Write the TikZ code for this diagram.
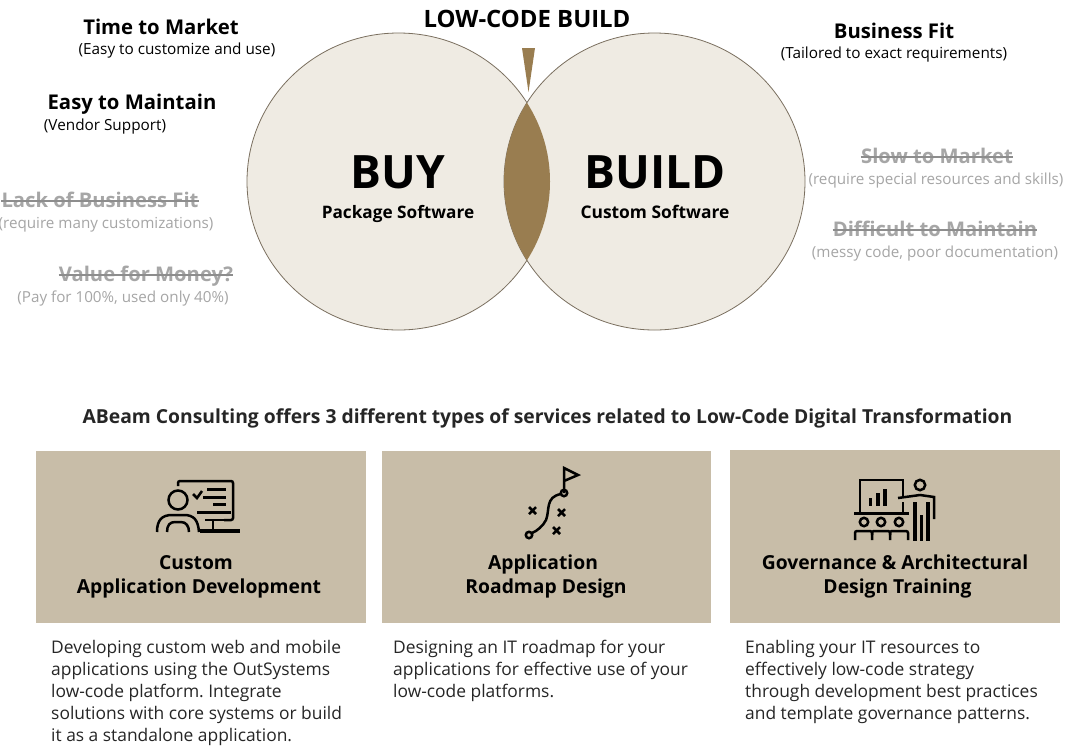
\documentclass[tikz,border=0pt]{standalone}
\usepackage{fontspec}
\setmainfont{Open Sans}
\usepackage{xcolor}
\definecolor{cream}{HTML}{EFEBE3}
\definecolor{ring}{HTML}{7A6F5F}
\definecolor{gold}{HTML}{997D50}
\definecolor{tan}{HTML}{C8BDA8}
\definecolor{fade}{HTML}{A6A6A6}
\definecolor{ink}{HTML}{262626}
\newcommand{\fsz}[1]{\fontsize{#1}{#1}\selectfont}
\frenchspacing
\tikzset{
 x=1pt,y=-1pt,
 head/.style={inner sep=0,font=\fsz{20.3}\bfseries,text=black},
 sub/.style={inner sep=0,font=\fsz{15.3},text=black},
 fhead/.style={inner sep=0,font=\fsz{20.2}\bfseries,text=fade},
 fsub/.style={inner sep=0,font=\fsz{15.2},text=fade},
 strike/.style={draw=fade!85!black,line width=1.4pt},
 card/.style={fill=tan,draw=none},
 cardtitle/.style={inner sep=0,align=center,font=\fontsize{19.3}{24}\selectfont\bfseries,text=black},
 body/.style={inner sep=0,align=left,anchor=north west,font=\fontsize{17.4}{22}\selectfont,text=ink},
 icon/.style={draw=black,line width=2.5pt,fill=none,line cap=butt},
}
\newcommand{\faded}[5]{%
 \node[fhead] (#1) at (#2,#3) {#4};
 \draw[strike] (#1.west |- 0,#5) -- (#1.east |- 0,#5);
}
\begin{document}
\begin{tikzpicture}
\useasboundingbox (0,0) rectangle (1092,748);
\fill[white] (0,0) rectangle (1092,748);
% circles
\draw[fill=cream,draw=ring,line width=.8pt] (398.5,181.5) ellipse [x radius=151.5,y radius=148.5];
\draw[fill=cream,draw=ring,line width=.8pt] (654.5,181.5) ellipse [x radius=150.5,y radius=148.5];
\begin{scope}
\clip (398.5,181.5) ellipse [x radius=151.5,y radius=148.5];
\fill[gold] (654.5,181.5) ellipse [x radius=150.5,y radius=148.5];
\end{scope}
\fill[gold] (522,48) -- (535,48) -- (528.5,92) -- cycle;
% venn text
\node[inner sep=0,font=\fsz{23.9}\bfseries] (lcb) at (527,18.5) {LOW-CODE BUILD};
\node[inner sep=0,font=\fsz{46}\bfseries] (buy) at (398,172) {BUY};
\node[inner sep=0,font=\fsz{17.2}\bfseries] (pkg) at (398,214) {Package Software};
\node[inner sep=0,font=\fsz{46}\bfseries] (build) at (655,172) {BUILD};
\node[inner sep=0,font=\fsz{17.4}\bfseries] (cust) at (655,212) {Custom Software};
% left benefits
\node[head] (ttm) at (161,27) {Time to Market};
\node[sub] (ttms) at (177,51) {(Easy to customize and use)};
\node[head] (etm) at (132,104) {Easy to Maintain};
\node[sub] (etms) at (105,127) {(Vendor Support)};
\faded{lbf}{100}{200}{Lack of Business Fit}{201}
\node[fsub] (lbfs) at (106,225) {(require many customizations)};
\faded{vfm}{146}{276}{Value for Money?}{275}
\node[fsub] (vfms) at (123,299) {(Pay for 100\%, used only 40\%)};
% right
\node[head] (bf) at (894,31) {Business Fit};
\node[sub] (bfs) at (894,55) {(Tailored to exact requirements)};
\faded{stm}{937}{156}{Slow to Market}{157}
\node[fsub] (stms) at (936,181) {(require special resources and skills)};
\faded{dtm}{935}{229}{Difficult to Maintain}{230}
\node[fsub] (dtms) at (935,254) {(messy code, poor documentation)};
% headline
\node[inner sep=0,font=\fsz{19.3}\bfseries,text=ink] (hl) at (547.5,418) {ABeam Consulting offers 3 different types of services related to Low-Code Digital Transformation};
% cards
\fill[card] (36,451) rectangle (366,623);
\fill[card] (382,451) rectangle (711,623);
\fill[card] (730,450) rectangle (1060,623);
\node[cardtitle] (t1) at (199,576.5) {Custom\hspace*{6pt}\\Application Development};
\node[cardtitle] (t2) at (546,576.5) {Application\hspace*{6pt}\\Roadmap Design};
\node[cardtitle] (t3) at (895,576.5) {Governance \& Architectural\\\hspace*{5pt}Design Training};
\node[body] (b1) at (51,640) {Developing custom web and mobile\\applications using the OutSystems\\low-code platform. Integrate\\solutions with core systems or build\\it as a standalone application.};
\node[body] (b2) at (393,640) {Designing an IT roadmap for your\\applications for effective use of your\\low-code platforms.};
\node[body] (b3) at (745,640) {Enabling your IT resources to\\effectively low-code strategy\\through development best practices\\and template governance patterns.};
% icon 1
\draw[icon] (178,486) [rounded corners=2pt] -- (178,481) -- (233,481) -- (233,520) -- (224,520);
\draw[icon] (178,500) circle [radius=9.5];
\draw[icon] (157,532) .. controls (157,520) and (162,515) .. (172,515) -- (184,515) .. controls (194,515) and (198,520) .. (199,532);
\draw[icon] (167,532) .. controls (167,525) and (170,522) .. (175,522) -- (181,522) .. controls (186,522) and (189,526) .. (189,532);
\draw[icon] (193,494) -- (197,498) -- (202,491);
\draw[line width=3pt] (207,489) -- (226,489) (203,497) -- (226,497) (213,504) -- (226,504);
\draw[line width=3.5pt] (197,512.5) -- (231,512.5);
\draw[line width=3.5pt] (200,531) -- (240,531);
\draw[icon] (213,520) -- (213,530);
\draw[line width=2.5pt] (205,520) -- (231,520);
% icon 2
\draw[icon] (564,493) -- (564,468) -- (578,475) -- (564,481);
\draw[icon] (564,493) circle [radius=3.2];
\draw[icon] (561,494) .. controls (545,497) and (550,510) .. (546,520) .. controls (543,526) and (537,531) .. (532,533);
\draw[icon] (529,535) circle [radius=3.2];
\draw[icon] (529,507) -- (536,514) (536,507) -- (529,514);
\draw[icon] (558,509) -- (565,516) (565,509) -- (558,516);
\draw[icon] (553,527) -- (560,534) (560,527) -- (553,534);
% icon 3
\draw[icon] (860,512) -- (860,480) -- (903,480) -- (903,496);
\draw[icon] (903,502) -- (903,512);
\draw[line width=3pt] (854,513) -- (909,513);
\draw[line width=3.5pt] (870.5,498) -- (870.5,506) (878,493) -- (878,506) (885,489) -- (885,506);
\draw[icon] (920,485) circle [radius=5.2];
\draw[icon] (898,498) -- (920,495) -- (934,497) -- (934,519);
\draw[line width=3.5pt] (915,502) -- (915,541) (928,502) -- (928,541);
\draw[line width=3.5pt] (921.5,515) -- (921.5,541);
\draw[icon] (864,522) circle [radius=4.2] (881,522) circle [radius=4.2] (899,522) circle [radius=4.2];
\draw[icon] (855,540) -- (855,535) [rounded corners=2pt] -- (855,531) -- (872,531) -- (872,540);
\draw[icon] (872,535) [rounded corners=2pt] -- (872,531) -- (890,531) -- (890,540);
\draw[icon] (890,535) [rounded corners=2pt] -- (890,531) -- (908,531) -- (908,540);
\end{tikzpicture}
\end{document}
